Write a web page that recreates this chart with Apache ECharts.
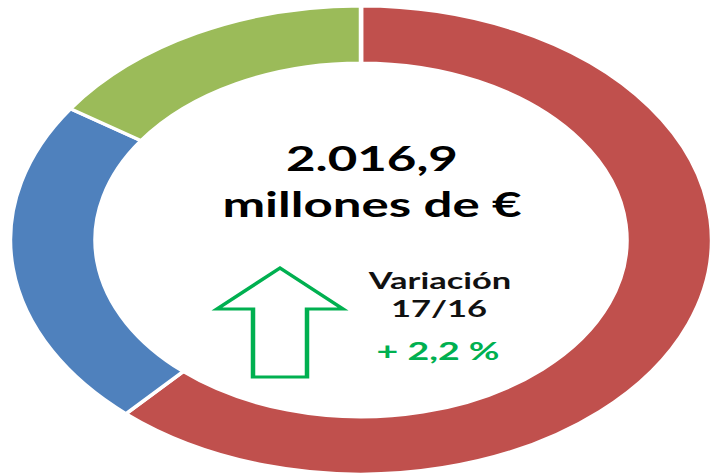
<!DOCTYPE html>
<html>
<head>
<meta charset="utf-8">
<script src="https://cdn.jsdelivr.net/npm/echarts@6/dist/echarts.min.js"></script>
<style>
html,body{margin:0;padding:0;background:#fff;overflow:hidden;width:713px;height:475px;}
#chart{width:475.33px;height:475px;transform:scaleX(1.5);transform-origin:0 0;}
</style>
</head>
<body>
<div id="chart"></div>
<script>
// Data
const categories = ['Segmento 1', 'Segmento 2', 'Segmento 3'];
const values = [1244, 460, 313];
const colors = ['#C0504D', '#4F81BD', '#9BBB59'];
const totalLabel = '2.016,9';
const unitLabel = 'millones de €';
const variationLabel = 'Variación';
const periodLabel = '17/16';
const changeLabel = '+ 2,2 %';

const SX = 1.5; // horizontal stretch of the picture
const chart = echarts.init(document.getElementById('chart'), null, {renderer: 'svg'});

const arrowPts = [[280,268],[343,309],[307,309],[307,377],[253,377],[253,309],[217,309]]
  .map(p => [p[0]/SX, p[1]]);

const font = 'Lato, "Open Sans", sans-serif';
chart.setOption({
  animation: false,
  series: [{
    type: 'pie',
    center: [361/SX, 240],
    radius: [177, 234],
    startAngle: 90,
    clockwise: true,
    label: {show: false},
    labelLine: {show: false},
    emphasis: {disabled: true},
    itemStyle: {borderColor: '#ffffff', borderWidth: 3},
    data: categories.map((c, i) => ({name: c, value: values[i], itemStyle: {color: colors[i]}}))
  }],
  graphic: [
    {type: 'text', x: 372/SX, y: 158, style: {text: totalLabel, font: 'bold 34px ' + font, fill: '#000', align: 'center', verticalAlign: 'middle'}},
    {type: 'text', x: 372/SX, y: 204, style: {text: unitLabel, font: 'bold 34px ' + font, fill: '#000', align: 'center', verticalAlign: 'middle'}},
    {type: 'text', x: 440/SX, y: 280, style: {text: variationLabel, font: 'bold 23px ' + font, fill: '#111', align: 'center', verticalAlign: 'middle'}},
    {type: 'text', x: 439/SX, y: 308, style: {text: periodLabel, font: 'bold 23px ' + font, fill: '#111', align: 'center', verticalAlign: 'middle'}},
    {type: 'text', x: 438/SX, y: 351, style: {text: changeLabel, font: 'bold 25px ' + font, fill: '#00B050', align: 'center', verticalAlign: 'middle'}},
    {type: 'polygon', shape: {points: arrowPts}, style: {fill: '#fff', stroke: '#00B050', lineWidth: 3, lineJoin: 'miter'}}
  ]
});
</script>
</body>
</html>
